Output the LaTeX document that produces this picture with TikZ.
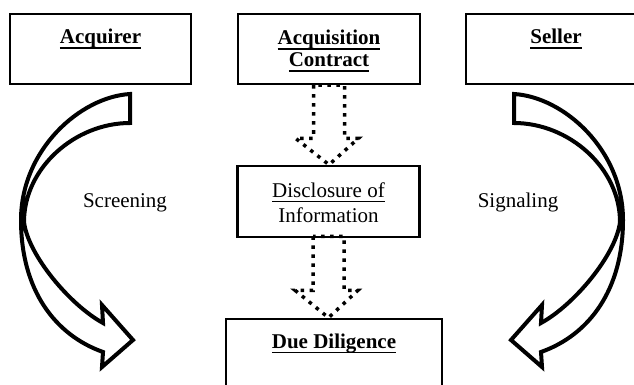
\documentclass[tikz,border=0pt]{standalone}
\usepackage{fontspec}
\setmainfont{Liberation Serif}
\usetikzlibrary{calc}
\newcommand\myul[1]{\setbox0\hbox{#1}\rlap{\rule[-4.6pt]{\wd0}{1.1pt}}\box0}
\begin{document}
\begin{tikzpicture}[x=1pt,y=-1pt,
  box/.style={draw, line width=2.5pt, inner sep=0pt},
  lbl/.style={inner sep=0pt, anchor=base, font=\fontsize{21}{24}\selectfont},
  dotarr/.style={draw, line width=3.5pt, dash pattern=on 3.5pt off 5.5pt, line cap=butt, line join=miter},
  curvarr/.style={draw, fill=white, line width=4pt, line join=miter}]
\path[use as bounding box, clip] (0,0) rectangle (634,385);

% boxes
\node[box, minimum width=181pt, minimum height=70pt] (acq) at (100.5,49) {};
\node[box, minimum width=182pt, minimum height=70pt] (con) at (329,49) {};
\node[box, minimum width=182pt, minimum height=70pt] (sel) at (557,49) {};
\node[box, minimum width=182pt, minimum height=71pt] (dis) at (328.5,201.5) {};
\node[box, minimum width=216pt, minimum height=90pt] (due) at (334,364) {};

% texts
\node[lbl] (acqT) at (100.5,44) {\textbf{\myul{Acquirer}}};
\node[lbl] (conT1) at (329,45) {\textbf{\myul{Acquisition}}};
\node[lbl] (conT2) at (329,67) {\textbf{\myul{Contract}}};
\node[lbl] (selT) at (556,44) {\textbf{\myul{Seller}}};
\node[lbl] (disT1) at (328.5,197) {\myul{Disclosure of}};
\node[lbl] (disT2) at (328.5,222) {Information};
\node[lbl] (dueT) at (334,348) {\textbf{\myul{Due Diligence}}};
\node[lbl] (scr) at (125,207) {Screening};
\node[lbl] (sig) at (518,207) {Signaling};

% dotted block arrows
\draw[dotarr] ($(con.south)+(-15.5,0)$) -- ($(con.south)+(-15.5,53)$) -- ($(con.south)+(-33.5,53)$)
  -- (con.south |- dis.north) -- ($(con.south)+(29.5,53)$) -- ($(con.south)+(15.5,53)$)
  -- ($(con.south)+(15.5,0)$) -- cycle;
\draw[dotarr] ($(dis.south)+(-15.5,-2)$) -- ($(dis.south)+(-15.5,52)$) -- ($(dis.south)+(-33.5,52)$)
  -- (dis.south |- due.north) -- ($(dis.south)+(29.5,52)$) -- ($(dis.south)+(15.5,52)$)
  -- ($(dis.south)+(15.5,-2)$) -- cycle;

% curved block arrows
\def\curvedarrow{(130,94) .. controls (80,97) and (21,150) .. (21,220)
  .. controls (21,290) and (55,335) .. (103,352) -- (102,367) -- (133,340) -- (102,305) -- (103,323)
  .. controls (70,305) and (28,255) .. (24,222)
  .. controls (24,168) and (75,123) .. (130,123) -- cycle}
\path[curvarr] \curvedarrow;
\begin{scope}[xshift=644pt, xscale=-1]
\path[curvarr] \curvedarrow;
\end{scope}
\end{tikzpicture}
\end{document}
